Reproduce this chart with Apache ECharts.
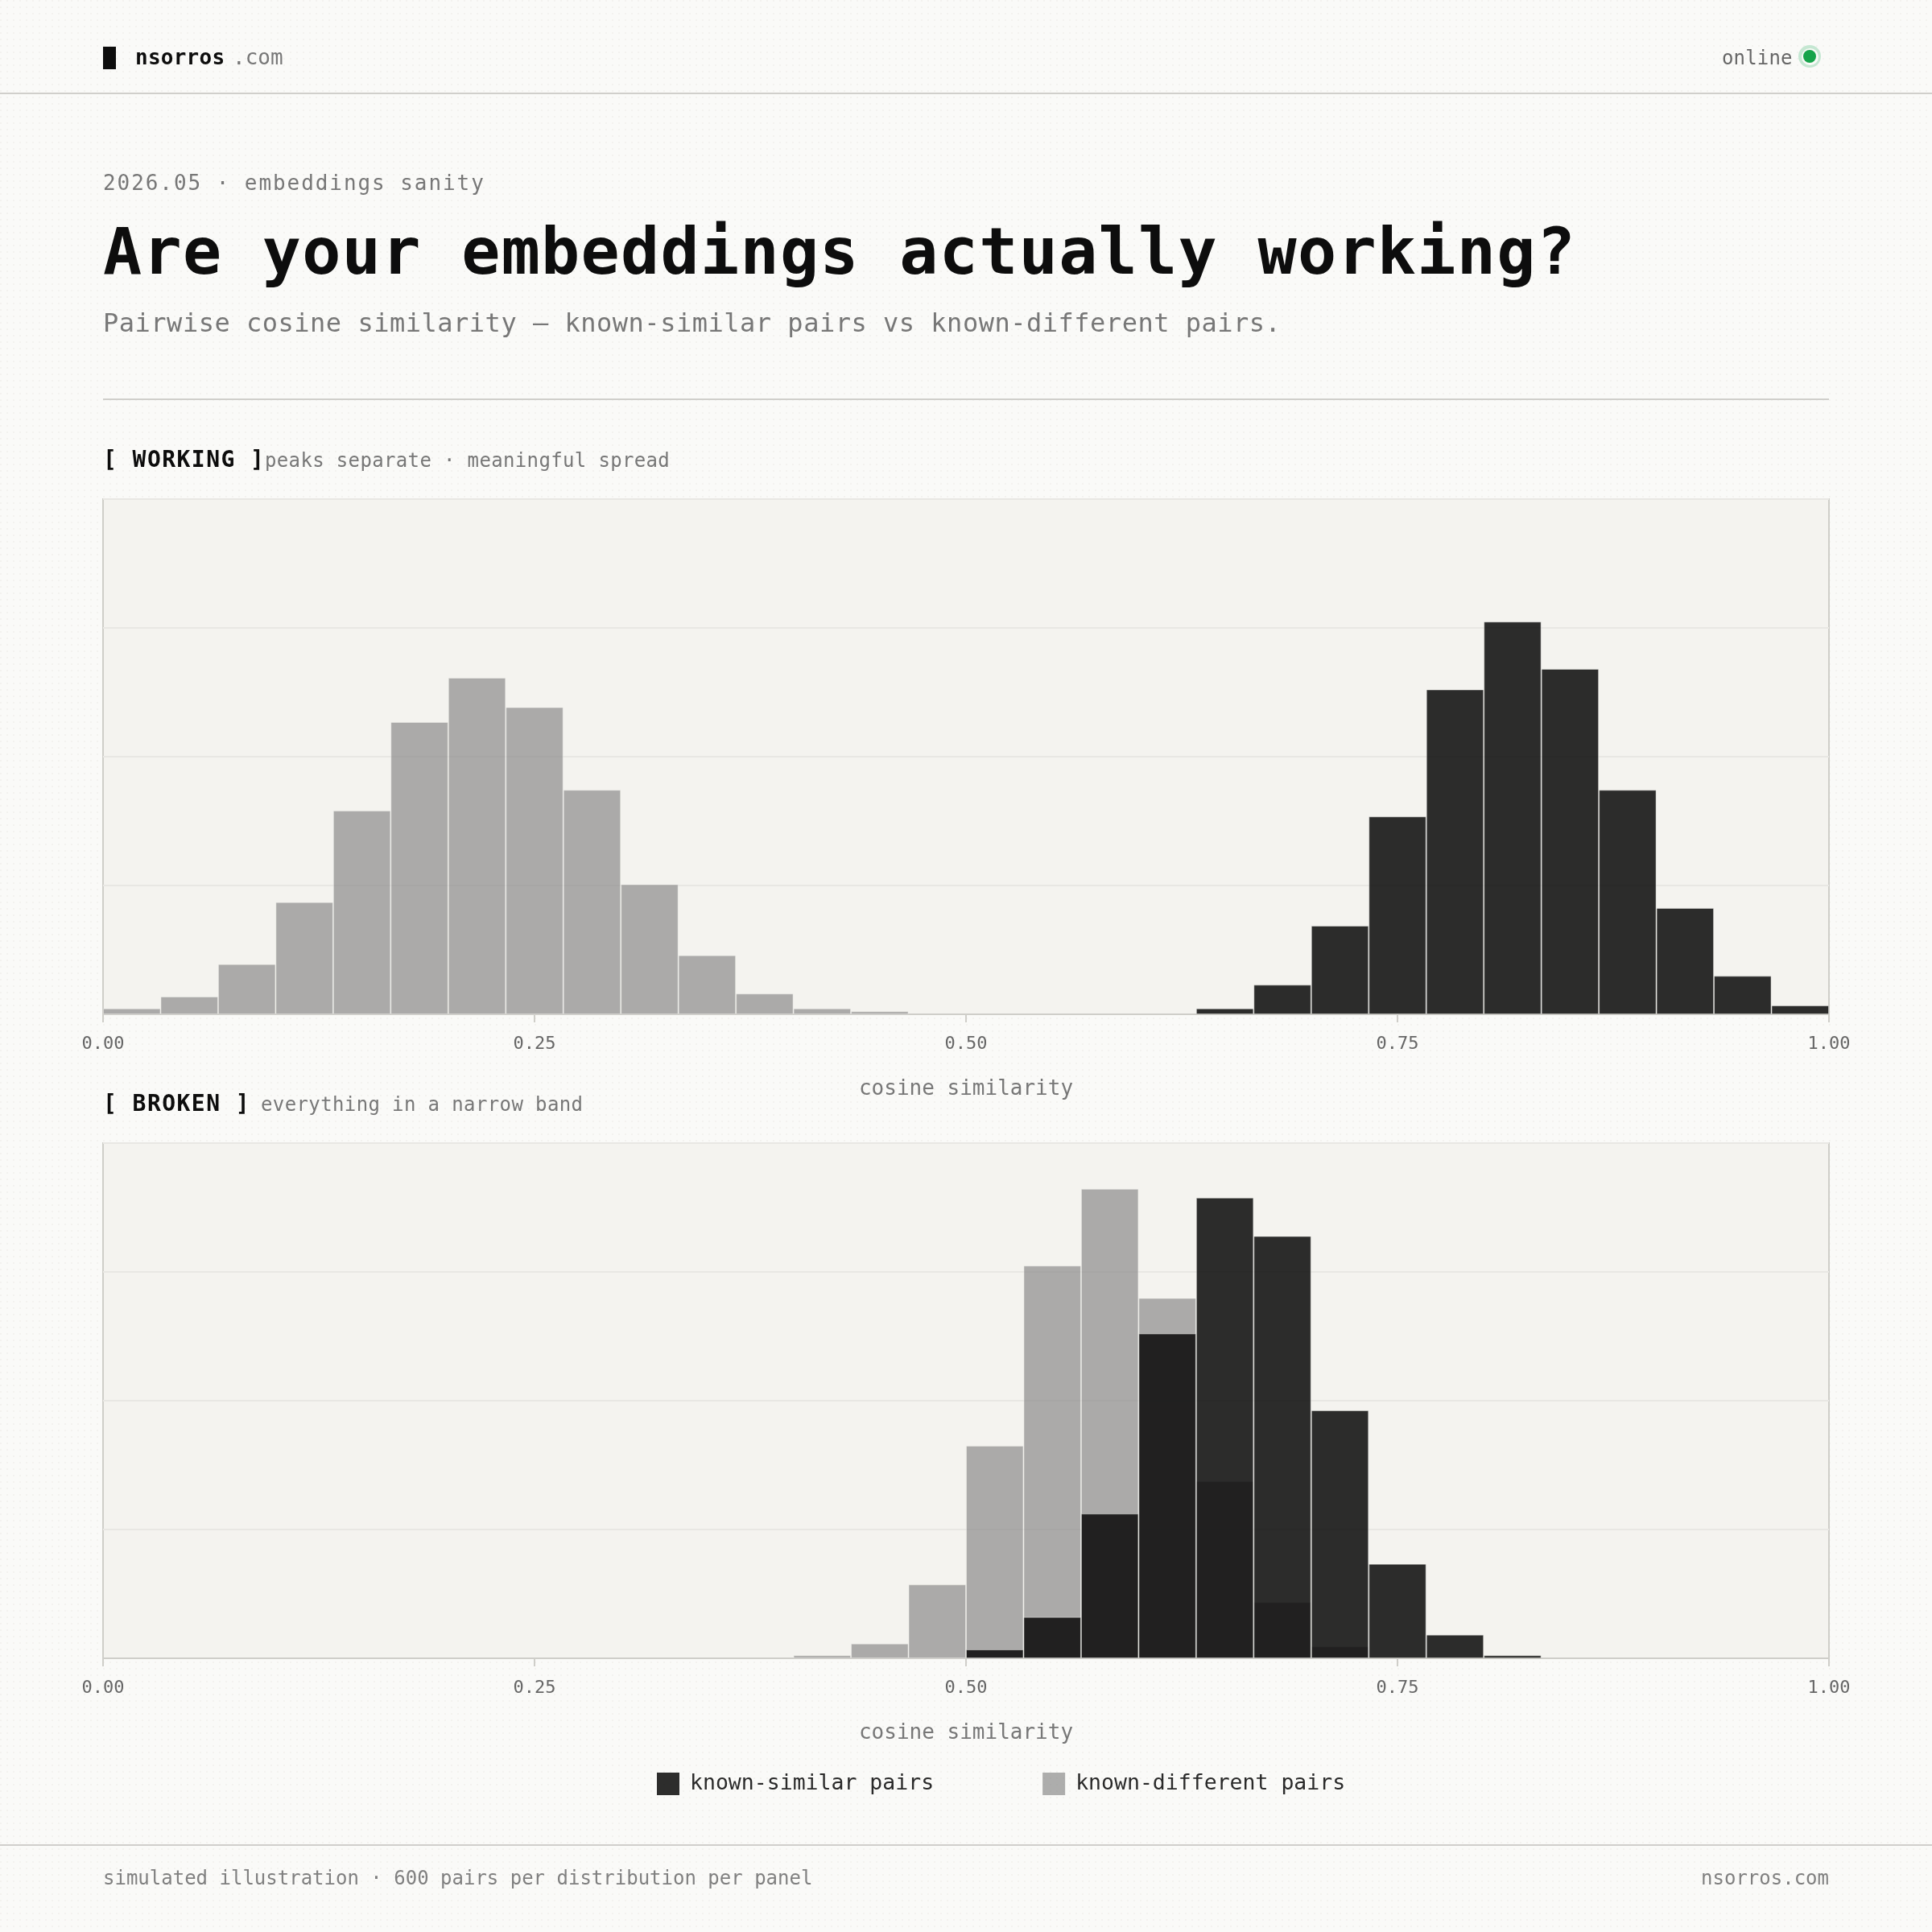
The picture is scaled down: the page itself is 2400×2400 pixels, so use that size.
<!DOCTYPE html>
<html>
<head>
<meta charset="utf-8">
<script src="https://cdn.jsdelivr.net/npm/echarts@6/dist/echarts.min.js"></script>
<style>
html,body{margin:0;padding:0;width:2400px;height:2400px;overflow:hidden;background-color:#fafaf8;
background-image:url("data:image/svg+xml,%3Csvg xmlns='http://www.w3.org/2000/svg' width='8' height='8'%3E%3Crect width='2' height='2' fill='%23f3f2ef'/%3E%3C/svg%3E");}
#chart{position:absolute;left:0;top:0;width:2400px;height:2400px;}
.t{position:absolute;font-family:"DejaVu Sans Mono",monospace;white-space:pre;line-height:40px;height:40px;}
.rule{position:absolute;height:2px;background:#d0cfcb;}
</style>
</head>
<body>
<div id="chart"></div>
<div class="rule" style="left:0;width:2400px;top:115px"></div>
<div class="rule" style="left:128px;width:2144px;top:495px"></div>
<div class="rule" style="left:0;width:2400px;top:2291px"></div>
<div style="position:absolute;left:128px;top:58px;width:16px;height:28px;background:#0d0d0d"></div>
<div class="t" style="left:168px;top:51px;font-size:26px;font-weight:700;letter-spacing:.25px;color:#0d0d0d">nsorros</div>
<div class="t" style="left:289px;top:51px;font-size:26px;color:#777">.com</div>
<div class="t" style="left:2139px;top:52px;font-size:24px;letter-spacing:.15px;color:#666">online</div>
<div style="position:absolute;left:2234px;top:56px;width:28px;height:28px;border-radius:50%;background:#c5e7d2"></div>
<div style="position:absolute;left:2237.5px;top:59.5px;width:21px;height:21px;border-radius:50%;background:#fafaf8"></div>
<div style="position:absolute;left:2240px;top:62px;width:16px;height:16px;border-radius:50%;background:#16a34a"></div>
<div class="t" style="left:128px;top:207px;font-size:26px;letter-spacing:1.93px;color:#777">2026.05 · embeddings sanity</div>
<div class="t" style="left:128px;top:263px;height:100px;line-height:100px;font-size:80px;font-weight:700;letter-spacing:1.3px;color:#0d0d0d">Are your embeddings actually working?</div>
<div class="t" style="left:128px;top:381px;font-size:32px;letter-spacing:.51px;color:#777">Pairwise cosine similarity — known-similar pairs vs known-different pairs.</div>
<div class="t" style="left:128px;top:551px;font-size:28px;font-weight:700;letter-spacing:1.45px;color:#0d0d0d">[ WORKING ]</div>
<div class="t" style="left:329px;top:552px;font-size:24px;letter-spacing:.35px;color:#777">peaks separate · meaningful spread</div>
<div class="t" style="left:128px;top:1351px;font-size:28px;font-weight:700;letter-spacing:1.45px;color:#0d0d0d">[ BROKEN ]</div>
<div class="t" style="left:324px;top:1352px;font-size:24px;letter-spacing:.38px;color:#777">everything in a narrow band</div>
<div class="t" style="left:128px;top:2313px;font-size:24px;color:#808080">simulated illustration · 600 pairs per distribution per panel</div>
<div class="t" style="right:128px;top:2313px;font-size:24px;color:#808080">nsorros.com</div>
<script>
const binStarts = ['0.000','0.033','0.067','0.100','0.133','0.167','0.200','0.233','0.267','0.300',
  '0.333','0.367','0.400','0.433','0.467','0.500','0.533','0.567','0.600','0.633',
  '0.667','0.700','0.733','0.767','0.800','0.833','0.867','0.900','0.933','0.967'];
const workingSimilar   = [0,0,0,0,0,0,0,0,0,0, 0,0,0,0,0,0,0,0,0,2, 10,30,67,110,133,117,76,36,13,3];
const workingDifferent = [2,6,17,38,69,99,114,104,76,44, 20,7,2,1,0,0,0,0,0,0, 0,0,0,0,0,0,0,0,0,0];
const brokenSimilar    = [0,0,0,0,0,0,0,0,0,0, 0,0,0,0,0,3,14,49,110,156, 143,84,32,8,1,0,0,0,0,0];
const brokenDifferent  = [0,0,0,0,0,0,0,0,0,0, 0,0,1,5,25,72,133,159,122,60, 19,4,0,0,0,0,0,0,0,0];
const similarName = 'known-similar pairs';
const differentName = 'known-different pairs';
const axisTitle = 'cosine similarity';
const countMax = 174.5;
const countStep = 43.625;

const MONO = '"DejaVu Sans Mono", monospace';
const LINE = '#cfcec9';
const DARK = 'rgba(8,8,8,0.85)';
const GRAY = 'rgba(136,136,136,0.68)';
const EDGE = 'rgba(245,244,240,0.45)';

const grids = [620, 1420].map(top => ({
  left: 128, top, width: 2144, height: 640, show: true,
  backgroundColor: '#f4f3ef', borderColor: LINE, borderWidth: 2
}));
const xAxes = [];
const yAxes = [];
[0, 1].forEach(g => {
  xAxes.push({ type: 'category', gridIndex: g, data: binStarts, show: false, boundaryGap: true });
  xAxes.push({
    type: 'value', gridIndex: g, min: 0, max: 1, interval: 0.25, position: 'bottom',
    name: axisTitle, nameLocation: 'middle', nameGap: 80.5,
    nameTextStyle: { fontFamily: MONO, fontSize: 26, color: '#777' },
    axisLine: { show: true, onZero: false, lineStyle: { color: LINE, width: 2 } },
    axisTick: { show: true, length: 10, lineStyle: { color: LINE, width: 2 } },
    axisLabel: { show: true, margin: 26, fontFamily: MONO, fontSize: 22, color: '#666',
      formatter: v => v.toFixed(2) },
    splitLine: { show: false }
  });
  yAxes.push({
    type: 'value', gridIndex: g, min: 0, max: countMax, interval: countStep,
    axisLine: { show: false }, axisTick: { show: false }, axisLabel: { show: false },
    splitLine: { show: true, lineStyle: { color: '#e8e7e3', width: 2 } }
  });
});
const bar = (name, values, g, color) => ({
  name, type: 'bar', xAxisIndex: g * 2, yAxisIndex: g,
  data: values.map(v => v || null),
  barCategoryGap: '0%', barGap: '-100%',
  itemStyle: { color, borderColor: EDGE, borderWidth: 1 },
  emphasis: { disabled: true }, silent: true
});
const chart = echarts.init(document.getElementById('chart'), null, { renderer: 'canvas' });
chart.setOption({
  animation: false,
  backgroundColor: 'transparent',
  grid: grids,
  xAxis: xAxes,
  yAxis: yAxes,
  legend: {
    data: [similarName, differentName],
    left: 816, top: 2202, orient: 'horizontal', padding: 0,
    itemWidth: 28, itemHeight: 28, itemGap: 135,
    icon: 'rect', selectedMode: false,
    itemStyle: { borderWidth: 0 },
    textStyle: { fontFamily: MONO, fontSize: 26.5, color: '#2a2a2a', padding: [0, 0, 0, 8] }
  },
  series: [
    bar(differentName, workingDifferent, 0, GRAY),
    bar(similarName, workingSimilar, 0, DARK),
    bar(differentName, brokenDifferent, 1, GRAY),
    bar(similarName, brokenSimilar, 1, DARK)
  ]
});
</script>
</body>
</html>
